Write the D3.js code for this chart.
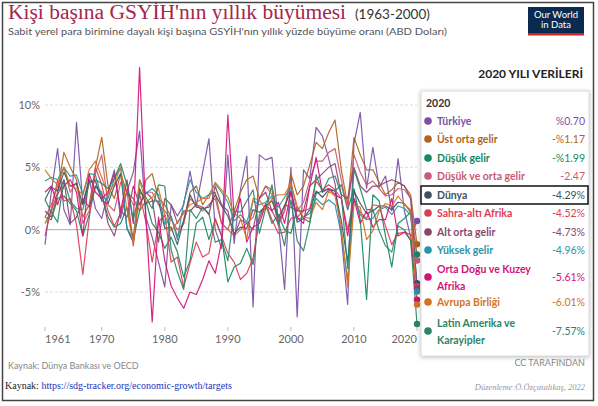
<!DOCTYPE html>
<html lang="tr">
<head>
<meta charset="UTF-8">
<title>Kişi başına GSYİH'nın yıllık büyümesi</title>
<script src="https://d3js.org/d3.v7.min.js"></script>
<style>
  body { margin: 0; background: #fff; }
  svg { display: block; font-family: Lato, "Noto Sans", sans-serif; }
  .grid { stroke: #ddd; stroke-dasharray: 3,2; }
  .zero { stroke: #aaa; }
  .tick-label { fill: #666; font-size: 11px; }
  .series { fill: none; stroke-width: 1.2; stroke-linejoin: round; opacity: 0.92; }
  .leg-name { font-size: 10.5px; font-weight: bold; }
  .leg-val { font-size: 10.5px; text-anchor: end; }
</style>
</head>
<body>
<script>
  const width = 598;
  const height = 406;

  const firstYear = 1961;
  const yTicks = [10, 5, 0, -5];
  const xTicks = [1961, 1970, 1980, 1990, 2000, 2010, 2020];

  // kişi başına GSYİH büyümesi, %, 1961-2020 (grafikten okunmuş yaklaşık değerler)
  const turkiye = [-1.2, 3.0, 6.5, 1.6, 0.4, 8.6, 2.1, 4.1, 1.7, 0.9,
                   3.0, 4.8, 0.9, 3.1, 4.6, 7.9, 1.0, -0.6, -2.6, -4.6,
                   2.0, 1.1, 2.0, 4.7, 1.9, 4.6, 7.3, 0.0, -1.5, 6.0,
                   -1.1, 3.2, 5.9, -6.2, 6.0, 5.6, 5.8, 0.7, -4.8, 5.0,
                   -7.0, 4.8, 4.1, 8.2, 7.5, 5.7, 3.7, -0.5, -6.0, 6.9,
                   9.4, 3.3, 6.6, 3.4, 4.3, 1.5, 5.7, 1.5, -0.6, 0.70];
  const ustOrtaGelir = [0.5, 1.5, 3.0, 6.2, 5.0, 4.0, 1.0, 2.0, 5.0, 7.4,
                        3.5, 2.5, 4.5, 3.0, 2.5, 1.5, 4.0, 4.5, 2.5, 2.0,
                        1.0, -0.5, 0.5, 3.0, 3.5, 2.0, 2.8, 3.0, 0.5, 0.0,
                        1.5, 3.0, 4.0, 4.3, 2.5, 3.5, 3.2, 0.5, 1.5, 4.5,
                        2.8, 3.5, 5.2, 7.0, 6.5, 7.8, 8.8, 4.8, 2.0, 7.4,
                        6.0, 4.8, 4.8, 3.8, 2.8, 3.2, 3.8, 3.5, 2.8, -1.17];
  const dusukGelir = [1.0, 0.8, 2.5, 2.7, 2.1, 1.5, -0.5, 1.2, 3.5, 2.8,
                      1.0, 0.2, 0.5, 1.8, -0.8, 1.5, 2.3, 0.5, -0.2, -1.5,
                      -0.6, -1.8, -3.8, -2.5, 0.5, 1.0, -0.8, 0.8, -0.5, -4.2,
                      -3.0, -2.7, -1.5, -2.8, 1.2, 2.0, 0.5, 1.2, 0.0, -0.3,
                      1.8, 0.9, 0.6, 2.9, 3.1, 3.3, 3.1, 3.6, 1.6, 3.3,
                      0.8, -5.6, 2.8, 2.3, -0.5, -3.0, 0.5, 0.9, 1.4, -1.99];
  const dusukVeOrtaGelir = [1.0, 2.0, 3.5, 5.0, 3.0, 3.8, 0.5, 1.5, 4.5, 6.0,
                            2.0, 1.5, 3.8, 3.0, 2.0, 2.0, 3.0, 3.0, 2.0, 1.5,
                            0.8, 0.0, 0.5, 2.5, 2.0, 1.5, 2.0, 2.5, 0.5, 0.0,
                            -0.5, 0.0, 0.5, 1.0, 2.5, 3.5, 2.8, 0.3, 1.5, 3.8,
                            1.5, 2.2, 4.0, 5.5, 5.5, 6.2, 6.5, 4.0, 1.6, 6.0,
                            4.6, 3.6, 3.9, 3.3, 2.7, 2.8, 3.3, 3.2, 2.5, -2.47];
  const dunya = [2.4, 3.4, 3.1, 4.6, 3.5, 3.7, 2.0, 3.9, 3.9, 2.3,
                 2.1, 3.5, 4.5, 0.1, -1.0, 3.3, 2.1, 2.3, 2.3, 0.1,
                 0.2, -1.2, 0.8, 2.8, 1.8, 1.7, 1.8, 2.8, 1.9, 1.1,
                 -0.3, 0.2, 0.1, 1.6, 1.4, 1.9, 2.3, 1.0, 1.9, 3.1,
                 0.6, 0.9, 1.6, 3.1, 2.6, 3.2, 3.1, 0.7, -2.6, 3.1,
                 2.1, 1.3, 1.5, 1.9, 1.9, 1.6, 2.2, 2.1, 1.4, -4.29];
  const sahraAltiAfrika = [-0.5, 1.6, 4.0, 2.3, 2.5, 0.4, -3.6, 0.8, 5.0, 3.6,
                           1.5, 0.3, 1.3, 3.2, -1.3, 2.9, 0.6, -2.6, 0.6, 1.2,
                           -2.6, -2.2, -4.6, -2.7, -1.0, -2.2, -1.9, 0.9, -0.5, -1.9,
                           -2.6, -4.0, -3.5, -2.3, 0.9, 2.1, 0.8, -0.3, -0.2, 0.9,
                           1.0, 1.5, 1.7, 3.9, 3.2, 3.6, 3.2, 2.5, 0.0, 2.4,
                           1.4, 0.9, 2.0, 1.9, 0.3, -1.2, -0.3, -0.2, -0.4, -4.52];
  const altOrtaGelir = [1.5, 1.0, 2.8, 4.0, 0.5, 1.0, 2.5, 1.8, 3.5, 3.0,
                        0.5, -0.5, 1.5, 1.0, 3.5, 2.0, 3.0, 2.5, -1.0, 2.5,
                        2.0, 0.5, 1.5, 1.5, 2.0, 1.8, 1.2, 3.5, 2.0, 1.5,
                        -0.5, 0.8, 0.5, 0.0, 2.5, 3.0, 1.5, 0.5, 2.0, 1.8,
                        1.5, 1.5, 3.5, 4.0, 4.5, 5.0, 5.3, 2.8, 2.5, 5.0,
                        3.5, 3.0, 3.5, 3.5, 3.8, 4.0, 3.8, 3.5, 2.5, -4.73];
  const yuksekGelir = [3.9, 4.2, 4.0, 5.0, 4.3, 4.4, 2.8, 4.5, 4.4, 2.5,
                       2.5, 4.1, 5.0, 0.1, -0.7, 4.0, 2.9, 3.3, 2.8, 0.4,
                       1.1, -0.8, 2.2, 4.0, 3.0, 2.5, 2.8, 3.7, 3.0, 2.2,
                       0.7, 1.2, 0.6, 2.3, 2.0, 2.2, 2.7, 1.8, 2.6, 3.4,
                       0.8, 1.0, 1.3, 2.5, 2.0, 2.4, 2.0, -0.4, -4.0, 2.5,
                       1.2, 0.8, 0.9, 1.6, 1.8, 1.2, 1.9, 1.7, 1.2, -4.96];
  const ortaDoguKuzeyAfrika = [3.0, 3.5, 2.0, 3.5, 4.0, 3.0, -0.5, 4.5, 3.0, 2.5,
                               3.0, 4.5, 1.5, 4.0, 0.5, 13.0, 1.0, -7.4, 1.0, -2.5,
                               -4.5, -5.5, -6.3, -5.0, -5.2, -4.0, -2.5, -3.5, -1.0, 9.2,
                               1.0, 2.5, -1.0, 0.2, 0.5, 2.0, 1.5, 2.2, 0.5, 3.0,
                               1.0, 0.5, 3.5, 5.8, 3.0, 3.3, 2.8, 2.5, -0.5, 2.5,
                               0.5, 1.5, 0.2, 0.8, 0.8, 2.5, -0.5, -0.2, -0.8, -5.61];
  const avrupaBirligi = [4.8, 4.1, 3.6, 5.0, 3.5, 3.3, 2.8, 4.8, 5.5, 4.2,
                         2.8, 3.7, 5.0, 1.6, -1.1, 4.0, 2.2, 2.6, 3.3, 1.2,
                         -0.1, 0.6, 1.3, 2.0, 2.2, 2.5, 2.5, 3.8, 3.2, 2.6,
                         1.3, 0.9, -0.8, 2.5, 2.4, 1.6, 2.5, 2.8, 2.8, 3.7,
                         1.9, 1.0, 0.9, 2.2, 1.6, 3.1, 2.7, 0.2, -4.6, 2.0,
                         1.8, -0.8, -0.1, 1.5, 2.1, 1.9, 2.7, 2.0, 1.6, -6.01];
  const latinAmerikaKarayipler = [2.4, 1.4, 0.6, 4.0, 2.3, 1.7, 1.6, 3.7, 4.0, 3.7,
                                  3.3, 4.1, 5.3, 3.6, 0.8, 3.0, 2.6, 1.7, 3.6, 3.5,
                                  -1.6, -3.4, -4.8, 1.6, 0.9, 1.8, 1.3, -1.0, -0.8, -2.5,
                                  1.5, 1.4, 2.3, 3.2, -0.3, 1.7, 3.6, 0.7, -1.3, 2.4,
                                  -0.9, -1.7, 0.5, 4.4, 3.0, 4.1, 4.3, 2.8, -3.1, 4.8,
                                  3.3, 1.6, 1.6, -0.1, -1.3, -1.8, 0.3, 0.0, -0.9, -7.57];

  // lejant (2020 değerine göre sıralı)
  const names = [["Türkiye"], ["Üst orta gelir"], ["Düşük gelir"], ["Düşük ve orta gelir"],
                 ["Dünya"], ["Sahra-altı Afrika"], ["Alt orta gelir"], ["Yüksek gelir"],
                 ["Orta Doğu ve Kuzey", "Afrika"], ["Avrupa Birliği"], ["Latin Amerika ve", "Karayipler"]];
  const valueLabels = ["%0.70", "-%1.17", "-%1.99", "-2.47", "-4.29%", "-4.52%",
                       "-4.73%", "-4.96%", "-5.61%", "-6.01%", "-7.57%"];
  const colors = ["#7b4fa6", "#b0631c", "#13895f", "#c95a72", "#3b5266", "#dc3d55",
                  "#8c4569", "#2b93a6", "#d3127a", "#d4731f", "#2c8466"];
  const allSeries = [turkiye, ustOrtaGelir, dusukGelir, dusukVeOrtaGelir, dunya, sahraAltiAfrika,
                     altOrtaGelir, yuksekGelir, ortaDoguKuzeyAfrika, avrupaBirligi, latinAmerikaKarayipler];
  const legendY = [121, 139, 158, 176, 195, 213, 232, 250, 277, 302, 331];

  const svg = d3.select("body").append("svg").attr("width", width).attr("height", height);

  // çerçeve
  svg.append("rect").attr("x", 2.5).attr("y", 2.5).attr("width", 591).attr("height", 398)
     .attr("fill", "#fff").attr("stroke", "#444").attr("stroke-width", 1.5);

  // başlık
  svg.append("text").attr("x", 8).attr("y", 19)
     .attr("font-family", "'Liberation Serif', 'DejaVu Serif', serif")
     .attr("font-size", 20).attr("fill", "#a3264c")
     .attr("textLength", 338).attr("lengthAdjust", "spacingAndGlyphs")
     .text("Kişi başına GSYİH'nın yıllık büyümesi");
  svg.append("text").attr("x", 355).attr("y", 19).attr("font-size", 13.5).attr("fill", "#333")
     .text("(1963-2000)");
  svg.append("text").attr("x", 8).attr("y", 35).attr("font-size", 10).attr("fill", "#555")
     .attr("textLength", 439).attr("lengthAdjust", "spacingAndGlyphs")
     .text("Sabit yerel para birimine dayalı kişi başına GSYİH'nın yıllık yüzde büyüme oranı (ABD Doları)");

  // logo
  const logo = svg.append("g");
  logo.append("rect").attr("x", 528).attr("y", 7).attr("width", 56).attr("height", 28).attr("fill", "#0b2a4f");
  logo.append("rect").attr("x", 528).attr("y", 33).attr("width", 56).attr("height", 2.5).attr("fill", "#ce261e");
  logo.append("text").attr("x", 556).attr("y", 18).attr("text-anchor", "middle").attr("fill", "#fff")
      .attr("font-size", 9.5).text("Our World");
  logo.append("text").attr("x", 556).attr("y", 28).attr("text-anchor", "middle").attr("fill", "#fff")
      .attr("font-size", 9.5).text("in Data");

  svg.append("text").attr("x", 583).attr("y", 78).attr("text-anchor", "end")
     .attr("font-size", 12).attr("font-weight", "bold").attr("fill", "#222")
     .text("2020 YILI VERİLERİ");

  // ölçekler
  const x = d3.scaleLinear().domain([1961, 2020]).range([45, 417]);
  const y = d3.scaleLinear().domain([-5, 10]).range([292, 105]);

  const grid = svg.append("g");
  grid.selectAll("line").data(yTicks).join("line")
      .attr("class", d => d === 0 ? "zero" : "grid")
      .attr("x1", 45).attr("x2", 417)
      .attr("y1", d => y(d)).attr("y2", d => y(d));
  grid.selectAll("text").data(yTicks).join("text")
      .attr("class", "tick-label").attr("x", 40).attr("y", d => y(d) + 4)
      .attr("text-anchor", "end").text(d => d + "%");

  svg.append("g").selectAll("text").data(xTicks).join("text")
     .attr("class", "tick-label").attr("y", 343)
     .attr("x", d => x(d))
     .attr("text-anchor", (d, i) => i === 0 ? "start" : (i === xTicks.length - 1 ? "end" : "middle"))
     .text(d => d);
  svg.append("g").selectAll("line").data(xTicks).join("line")
     .attr("x1", d => x(d)).attr("x2", d => x(d)).attr("y1", 327).attr("y2", 331)
     .attr("stroke", "#bbb");

  // çizgiler
  const line = d3.line().x((d, i) => x(firstYear + i)).y(d => y(d));
  svg.append("g").selectAll("path").data(allSeries).join("path")
     .attr("class", "series")
     .attr("stroke", (d, i) => colors[i])
     .attr("d", line);
  svg.append("g").selectAll("circle").data(allSeries).join("circle")
     .attr("cx", d => x(firstYear + d.length - 1))
     .attr("cy", d => y(d[d.length - 1]))
     .attr("r", 3.2)
     .attr("fill", (d, i) => colors[i]);

  // lejant kutusu
  svg.append("rect").attr("x", 421).attr("y", 91).attr("width", 168).attr("height", 265)
     .attr("fill", "#fff").attr("stroke", "#ddd")
     .style("filter", "drop-shadow(0px 1px 2px rgba(0,0,0,0.25))");
  svg.append("text").attr("x", 426).attr("y", 107).attr("font-size", 10.5)
     .attr("font-weight", "bold").attr("fill", "#333").text("2020");

  const items = svg.append("g").selectAll("g").data(names).join("g");
  items.append("circle").attr("cx", 428).attr("cy", (d, i) => legendY[i])
       .attr("r", 3.8).attr("fill", (d, i) => colors[i]);
  items.each(function(d, i) {
    const g = d3.select(this);
    const top = legendY[i] - (d.length - 1) * 8.5;
    d.forEach((t, k) => {
      g.append("text").attr("class", "leg-name").attr("x", 437)
       .attr("y", top + k * 17 + 4).attr("fill", colors[i]).text(t);
    });
    g.append("text").attr("class", "leg-val").attr("x", 585).attr("y", legendY[i] + 4)
     .attr("fill", colors[i]).text(valueLabels[i]);
  });
  svg.append("rect").attr("x", 421).attr("y", 186).attr("width", 167).attr("height", 18)
     .attr("fill", "none").attr("stroke", "#111").attr("stroke-width", 1.5);

  // alt bilgiler
  svg.append("text").attr("x", 8).attr("y", 369).attr("font-size", 9).attr("fill", "#888")
     .text("Kaynak: Dünya Bankası ve OECD");
  svg.append("text").attr("x", 585).attr("y", 366).attr("font-size", 9).attr("fill", "#888")
     .attr("text-anchor", "end").text("CC TARAFINDAN");
  const src = svg.append("text").attr("x", 5).attr("y", 389)
     .attr("font-family", "'Liberation Serif', serif").attr("font-size", 10);
  src.append("tspan").attr("fill", "#222").text("Kaynak: ");
  src.append("tspan").attr("fill", "#2233bb").text("https://sdg-tracker.org/economic-growth/targets");
  svg.append("text").attr("x", 585).attr("y", 390).attr("font-size", 8.5).attr("fill", "#999")
     .attr("font-style", "italic").attr("text-anchor", "end")
     .attr("font-family", "'Liberation Serif', serif")
     .text("Düzenleme:Ö.Özçataltkaş, 2022");
</script>
</body>
</html>
